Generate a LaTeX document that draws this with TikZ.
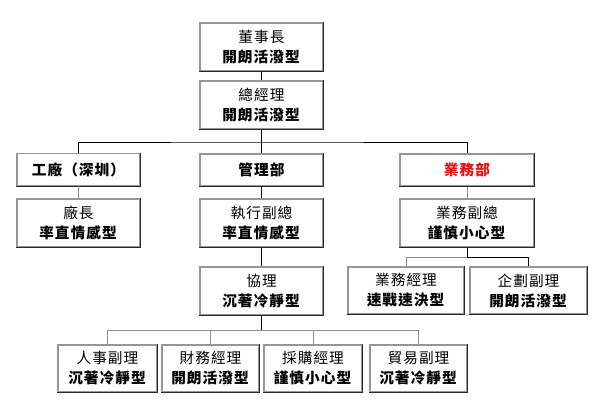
\documentclass[tikz,border=0pt]{standalone}
\usepackage{fontspec}
\newfontfamily\cjk{Noto Sans CJK TC}[LetterSpace=7]
\definecolor{edgegray}{RGB}{150,150,150}
\definecolor{edgedark}{RGB}{40,40,40}
\definecolor{linegray}{RGB}{140,140,140}
\definecolor{deptred}{RGB}{225,20,20}
\begin{document}
\begin{tikzpicture}[x=0.75pt,y=-0.75pt,
  box/.style={draw=edgegray,line width=0.8pt,fill=white,inner sep=0pt,align=center,
    font=\cjk\fontsize{11}{15}\selectfont},
  big/.style={box,minimum width=92.25pt,minimum height=36pt},
  dept/.style={box,minimum width=92.25pt,minimum height=24pt,font=\cjk\bfseries\fontsize{11}{15}\selectfont},
  conn/.style={draw=black,line width=0.7pt},
  lconn/.style={draw=linegray,line width=0.7pt},
  shade/.style={draw=edgedark,line width=0.8pt}]
\useasboundingbox (0,0) rectangle (610,405);
% boxes
\node[big] (chair) at (261.5,47) {董事長\\\textbf{開朗活潑型}};
\node[big] (gm) at (261.5,105) {總經理\\\textbf{開朗活潑型}};
\node[dept] (factory) at (78.5,169.5) {工廠（深圳）};
\node[dept] (mgmt) at (261.5,170) {管理部};
\node[dept,minimum width=100.5pt,text=deptred] (sales) at (467,170) {業務部};
\node[big] (fhead) at (78.5,223) {廠長\\\textbf{率直情感型}};
\node[big] (exec) at (261.5,223) {執行副總\\\textbf{率直情感型}};
\node[big,minimum width=100.5pt] (svp) at (467,223) {業務副總\\\textbf{謹慎小心型}};
\node[big] (assoc) at (261.5,291) {協理\\\textbf{沉著冷靜型}};
\node[big,minimum width=87pt,minimum height=35.25pt] (smgr) at (406,290.5) {業務經理\\\textbf{速戰速決型}};
\node[big,minimum width=87.75pt,minimum height=35.25pt] (plan) at (528.5,290.5) {企劃副理\\\textbf{開朗活潑型}};
\node[big,minimum width=74.25pt,minimum height=35.25pt] (hr) at (107.5,368.5) {人事副理\\\textbf{沉著冷靜型}};
\node[big,minimum width=72.75pt,minimum height=35.25pt] (fin) at (210.5,368.5) {財務經理\\\textbf{開朗活潑型}};
\node[big,minimum width=73.5pt,minimum height=35.25pt] (buy) at (313,368.5) {採購經理\\\textbf{謹慎小心型}};
\node[big,minimum width=72.75pt,minimum height=35.25pt] (trade) at (418.5,368.5) {貿易副理\\\textbf{沉著冷靜型}};
% darker right/bottom edges
\foreach \n in {chair,gm,factory,mgmt,sales,fhead,exec,svp,assoc,smgr,plan,hr,fin,buy,trade}
  \draw[shade] (\n.north east) -- (\n.south east) -- (\n.south west);
% bus points
\coordinate (bus1) at (261.5,142);
\coordinate (bus2) at (467,257);
\coordinate (bus3) at (261.5,330);
% connectors
\draw[conn] (chair.south) -- (gm.north);
\draw[conn] (gm.south) -- (bus1);
\draw[conn] (factory.north) |- (bus1) -| (sales.north);
\draw[conn] (bus1) -- (mgmt.north);
\draw[lconn] (factory.south) -- (fhead.north);
\draw[conn] (mgmt.south) -- (exec.north);
\draw[conn] (exec.south) -- (assoc.north);
\draw[lconn] (sales.south) -- (svp.north);
\draw[conn] (svp.south) -- (bus2);
\draw[lconn] (smgr.north) |- (bus2);
\draw[conn] (bus2) -| (plan.north);
\draw[conn] (assoc.south) -- (bus3);
\draw[lconn] (hr.north) |- (bus3) -| (trade.north);
\draw[lconn] (fin.north) -- (fin.north |- bus3);
\draw[lconn] (buy.north) -- (buy.north |- bus3);
\end{tikzpicture}
\end{document}
